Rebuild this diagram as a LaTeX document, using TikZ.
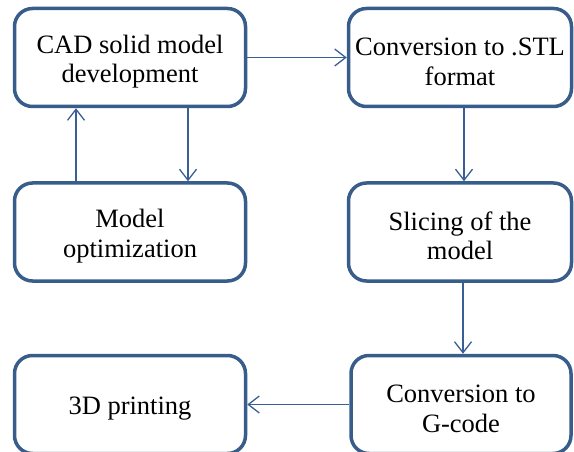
\documentclass[tikz,border=0pt]{standalone}
\usepackage{fontspec}
\setmainfont{Liberation Serif}
\usetikzlibrary{arrows.meta}
\definecolor{edgeblue}{HTML}{385D8A}
\definecolor{linkblue}{HTML}{3A5F95}
% tall strut on the first line pushes the text block slightly down
\newcommand{\firstline}{\rule{0pt}{26.5pt}}
\begin{document}
\begin{tikzpicture}[x=1pt,y=-1pt,
  stage/.style={draw=edgeblue, line width=3.5pt, rounded corners=18pt,
    minimum width=231pt, minimum height=98pt, inner sep=0pt, align=center,
    font=\fontsize{26.5}{29.5}\selectfont},
  flow/.style={draw=linkblue, line width=1.3pt,
    -{Straight Barb[length=11pt,width=17pt,line width=1.3pt]}}]
\useasboundingbox (0,0) rectangle (574,452);

% left column
\node[stage] (cad) at (130,57.5) {\firstline CAD solid model\\development};
\node[stage] (opt) at (130,232) {\firstline Model\\optimization};
\node[stage] (print) at (130,404.5) {\firstline 3D printing};

% right column
\node[stage, minimum width=223pt] (stl) at (460,57.5) {\firstline Conversion to .STL\\format};
\node[stage, minimum width=223pt] (slice) at (460,232) {\firstline Slicing of the\\model};
\node[stage, minimum width=220pt] (gcode) at (461,404.5) {\firstline Conversion to\\G-code};

% connectors
\draw[flow] (cad.east) -- (stl.west);
\draw[flow] ([xshift=58pt]cad.south) -- ([xshift=58pt]opt.north);
\draw[flow] ([xshift=-54pt]opt.north) -- ([xshift=-54pt]cad.south);
\draw[flow] ([xshift=4pt]stl.south) -- ([xshift=4pt]slice.south |- slice.north);
\draw[flow] ([xshift=3pt]slice.south) -- ([xshift=3pt]slice.south |- gcode.north);
\draw[flow] (gcode.west) -- (print.east);
\end{tikzpicture}
\end{document}
